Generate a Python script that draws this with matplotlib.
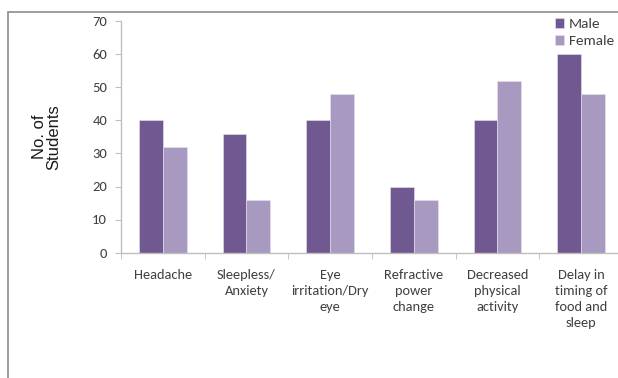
import numpy as np
import matplotlib
matplotlib.use("Agg")
from matplotlib import pyplot as plt
from matplotlib.patches import Rectangle

categories = ["Headache", "Sleepless/\nAnxiety", "Eye\nirritation/Dry\neye",
              "Refractive\npower\nchange", "Decreased\nphysical\nactivity",
              "Delay in\ntiming of\nfood and\nsleep"]
male = [40, 36, 40, 20, 40, 60]
female = [32, 16, 48, 16, 52, 48]
y_ticks = [0, 10, 20, 30, 40, 50, 60, 70]

male_color = "#705990"
female_color = "#a899c1"
axis_color = "#bfbfbf"
text_color = "#404040"
label_font = ["Carlito", "Lato", "DejaVu Sans"]

fig = plt.figure(figsize=(6.18, 3.78), dpi=100)
# outer frame of the chart area (right and bottom edges are cut off)
fig.patches.append(Rectangle((8 / 618, 0 - 0.01), 1.0, (378 - 12) / 378 + 0.01,
                             transform=fig.transFigure, fill=False,
                             edgecolor="#8c8c8c", linewidth=1.2))

ax = fig.add_axes([121 / 618, (378 - 252.5) / 378, 502 / 618, 231 / 378])

x = np.arange(len(categories))
w = 0.283
ax.bar(x - w / 2, male, width=w, color=male_color, label="Male",
       edgecolor="#e8e2ef", linewidth=0.4)
ax.bar(x + w / 2, female, width=w, color=female_color, label="Female",
       edgecolor="#e8e2ef", linewidth=0.4)

ax.set_xlim(-0.5, len(categories) - 0.5)
ax.set_ylim(0, 70)
ax.set_yticks(y_ticks)
ax.set_xticks(x)
ax.set_xticklabels(categories, fontsize=10.4, color=text_color,
                   family=label_font, linespacing=1.4, va="top")
ax.set_xticks(np.arange(len(categories) + 1) - 0.5, minor=True)
ax.tick_params(axis="x", which="major", length=0, pad=12)
ax.tick_params(axis="x", which="minor", length=4, color=axis_color, direction="out")
ax.tick_params(axis="y", length=4, color=axis_color, labelsize=10.5,
               labelcolor=text_color, pad=6)
for lab in ax.get_yticklabels():
    lab.set_family(label_font)

for s in ["top", "right"]:
    ax.spines[s].set_visible(False)
for s in ["left", "bottom"]:
    ax.spines[s].set_color(axis_color)
    ax.spines[s].set_linewidth(1.0)

ax.set_ylabel("No. of\nStudents", fontsize=12, family=["Liberation Sans", "DejaVu Sans"],
              color="#1a1a1a", linespacing=1.0, labelpad=22)

ax.legend(loc="upper left", bbox_to_anchor=(555 / 618, 1 - 18 / 378),
          bbox_transform=fig.transFigure, frameon=False,
          prop={"family": label_font, "size": 11},
          handlelength=0.6, handleheight=0.6, handletextpad=0.3,
          labelspacing=0.3, borderaxespad=0, borderpad=0,
          labelcolor=text_color)

fig.savefig("out.png", dpi=100)
